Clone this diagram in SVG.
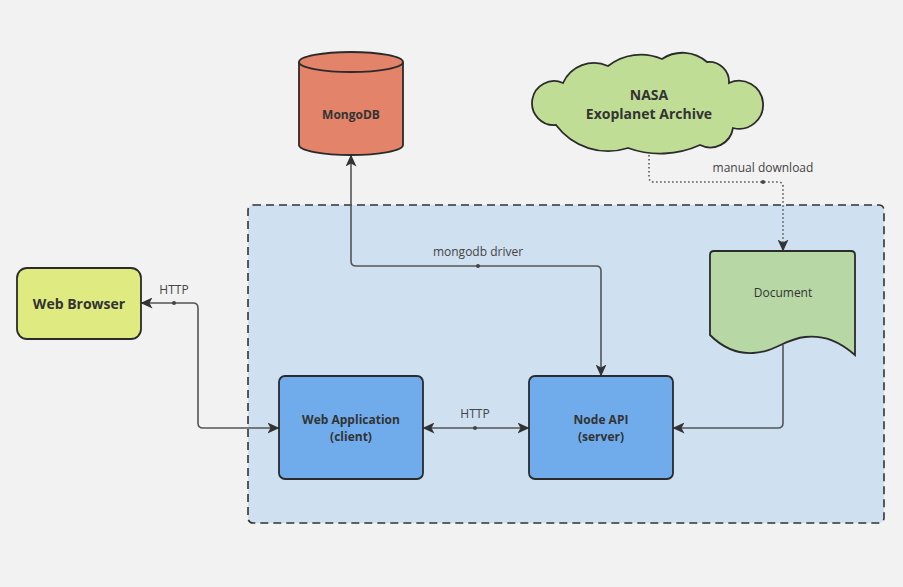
<svg xmlns="http://www.w3.org/2000/svg" width="903" height="587" viewBox="0 0 903 587">
<style>
.node{stroke:#2b2b2b;stroke-width:1.8}
.t{font-family:"Open Sans","Noto Sans","Liberation Sans",sans-serif;fill:#333;text-anchor:middle}
.b{font-weight:700}
.lbl{font-family:"Open Sans","Noto Sans","Liberation Sans",sans-serif;font-size:12px;fill:#444;text-anchor:middle}
.c{fill:none;stroke:#555;stroke-width:1.6}
.dot{fill:#444}
</style>
<defs>
<marker id="arr" viewBox="0 0 12 11" refX="11.5" refY="5.5" markerWidth="12" markerHeight="11" markerUnits="userSpaceOnUse" orient="auto-start-reverse">
<path d="M0,0 L12,5.5 L0,11 L3,5.5 Z" fill="#333"/>
</marker>
</defs>
<rect width="903" height="587" fill="#f2f2f2"/>
<g id="container">
<rect x="248" y="205" width="636" height="318" rx="5" fill="#cfe0f0" stroke="#333" stroke-width="1.6" stroke-dasharray="8,5"/>
</g>
<g id="connectors">
<path class="c" d="M141,303 H193 Q198,303 198,308 V423 Q198,428 203,428 H279" marker-start="url(#arr)" marker-end="url(#arr)"/>
<circle class="dot" cx="174" cy="303" r="2"/>
<text class="lbl" x="174" y="294">HTTP</text>
<path class="c" d="M423,428 H529" marker-start="url(#arr)" marker-end="url(#arr)"/>
<circle class="dot" cx="475" cy="428" r="2"/>
<text class="lbl" x="475" y="418">HTTP</text>
<path class="c" d="M351,155 V261 Q351,266 356,266 H596 Q601,266 601,271 V376" marker-start="url(#arr)" marker-end="url(#arr)"/>
<circle class="dot" cx="478" cy="266" r="2"/>
<text class="lbl" x="478" y="256">mongodb driver</text>
<path class="c" d="M649,155 V177 Q649,182 654,182 H778 Q783,182 783,187 V251" stroke-dasharray="1.6,2.4" marker-end="url(#arr)"/>
<circle class="dot" cx="763" cy="182" r="2"/>
<text class="lbl" x="763" y="172">manual download</text>
<path class="c" d="M783,345 V423 Q783,428 778,428 H673" marker-end="url(#arr)"/>
</g>
<g id="web-browser">
<rect class="node" x="17" y="268" width="124" height="71" rx="10" fill="#dfea80"/>
<text class="t b" x="79" y="309" font-size="14" fill="#222">Web Browser</text>
</g>
<g id="web-application">
<rect class="node" x="279" y="376" width="144" height="103" rx="6" fill="#70acec"/>
<text class="t b" x="351" y="424" font-size="12">Web Application</text>
<text class="t b" x="351" y="441" font-size="12">(client)</text>
</g>
<g id="node-api">
<rect class="node" x="529" y="376" width="144" height="103" rx="6" fill="#70acec"/>
<text class="t b" x="601" y="424" font-size="12">Node API</text>
<text class="t b" x="601" y="441" font-size="12">(server)</text>
</g>
<g id="mongodb">
<path class="node" d="M299,62 V145 A52,10 0 0 0 403,145 V62 A52,10 0 0 0 299,62 Z" fill="#e3836a"/>
<path class="node" d="M299,62 A52,10 0 0 0 403,62" fill="none"/>
<text class="t b" x="351" y="119" font-size="12">MongoDB</text>
</g>
<g id="nasa">
<path class="node" d="M563,83 A34,34 0 0 1 608,66 A53,53 0 0 1 662,59 A37,37 0 0 1 707,62 A20,20 0 0 1 729,83 A24,24 0 1 1 733,128 A23,23 0 0 1 700,145 A96,96 0 0 1 628,148 A65,65 0 0 1 556,125 A22,22 0 1 1 563,83 Z" fill="#c0dd95"/>
<text class="t b" x="649" y="100" font-size="14">NASA</text>
<text class="t b" x="649" y="119" font-size="14">Exoplanet Archive</text>
</g>
<g id="document">
<path class="node" d="M710,255 Q710,251 714,251 H851 Q855,251 855,255 V355 C840,342 825,335 805,337 C785,339 775,352 753,353 C735,354 722,347 710,335 Z" fill="#b7d7a5"/>
<text class="t" x="783" y="297" font-size="12">Document</text>
</g>
</svg>
